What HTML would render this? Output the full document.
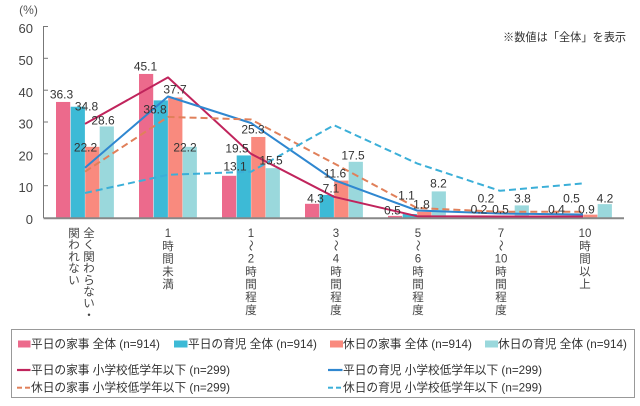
<!DOCTYPE html>
<html><head><meta charset="utf-8"><style>
html,body{margin:0;padding:0;background:#fff;}
svg{display:block;}
text{font-family:"Liberation Sans","Noto Sans CJK JP",sans-serif;}
</style></head><body>
<svg width="640" height="406" viewBox="0 0 640 406" xmlns="http://www.w3.org/2000/svg">
<rect x="0" y="0" width="640" height="406" fill="#fff"/>
<!-- header texts -->
<text x="28.5" y="14" font-size="12" fill="#555" text-anchor="middle">(%)</text>
<text x="503" y="41" font-size="11.2" fill="#333">※数値は「全体」を表示</text>
<!-- y axis labels -->
<g font-size="13" fill="#444" text-anchor="end">
<text x="33" y="33">60</text>
<text x="33" y="65">50</text>
<text x="33" y="97">40</text>
<text x="33" y="128.5">30</text>
<text x="33" y="160.5">20</text>
<text x="33" y="192">10</text>
<text x="33" y="224">0</text>
</g>
<!-- y axis -->
<line x1="43.5" y1="26" x2="43.5" y2="218" stroke="#777" stroke-width="1"/>
<g stroke="#777" stroke-width="1">
<line x1="43.5" y1="26.5" x2="48" y2="26.5"/>
<line x1="43.5" y1="58.3" x2="48" y2="58.3"/>
<line x1="43.5" y1="90.2" x2="48" y2="90.2"/>
<line x1="43.5" y1="122" x2="48" y2="122"/>
<line x1="43.5" y1="153.8" x2="48" y2="153.8"/>
<line x1="43.5" y1="185.7" x2="48" y2="185.7"/>
</g>
<!-- bars -->
<g id="bars"></g>
<!-- bars drawn explicitly -->
<g>
<!-- group centers: 85,168,251,334,417,500,583 ; y(v)=217.5-3.183v -->
<!-- group 1 -->
<rect x="56" y="101.95" width="14.2" height="115.55" fill="#EC6A8C"/>
<rect x="70.7" y="106.73" width="14.2" height="110.77" fill="#3DBAD6"/>
<rect x="85.2" y="146.84" width="14.2" height="70.66" fill="#F98A7E"/>
<rect x="99.7" y="126.47" width="14.2" height="91.03" fill="#9AD8DC"/>
<!-- group 2 -->
<rect x="139" y="73.95" width="14.2" height="143.55" fill="#EC6A8C"/>
<rect x="153.7" y="100.37" width="14.2" height="117.13" fill="#3DBAD6"/>
<rect x="168.2" y="97.5" width="14.2" height="120" fill="#F98A7E"/>
<rect x="182.7" y="146.84" width="14.2" height="70.66" fill="#9AD8DC"/>
<!-- group 3 -->
<rect x="222" y="175.8" width="14.2" height="41.7" fill="#EC6A8C"/>
<rect x="236.7" y="155.43" width="14.2" height="62.07" fill="#3DBAD6"/>
<rect x="251.2" y="136.97" width="14.2" height="80.53" fill="#F98A7E"/>
<rect x="265.7" y="168.16" width="14.2" height="49.34" fill="#9AD8DC"/>
<!-- group 4 -->
<rect x="305" y="203.81" width="14.2" height="13.69" fill="#EC6A8C"/>
<rect x="319.7" y="194.9" width="14.2" height="22.6" fill="#3DBAD6"/>
<rect x="334.2" y="180.58" width="14.2" height="36.92" fill="#F98A7E"/>
<rect x="348.7" y="161.8" width="14.2" height="55.7" fill="#9AD8DC"/>
<!-- group 5 -->
<rect x="388" y="215.9" width="14.2" height="1.6" fill="#EC6A8C"/>
<rect x="402.7" y="214" width="14.2" height="3.5" fill="#3DBAD6"/>
<rect x="417.2" y="211.77" width="14.2" height="5.73" fill="#F98A7E"/>
<rect x="431.7" y="191.4" width="14.2" height="26.1" fill="#9AD8DC"/>
<!-- group 6 -->
<rect x="471" y="216.86" width="14.2" height="0.64" fill="#EC6A8C"/>
<rect x="485.7" y="216.86" width="14.2" height="0.64" fill="#3DBAD6"/>
<rect x="500.2" y="215.9" width="14.2" height="1.6" fill="#F98A7E"/>
<rect x="514.7" y="205.4" width="14.2" height="12.1" fill="#9AD8DC"/>
<!-- group 7 -->
<rect x="554" y="216.23" width="14.2" height="1.27" fill="#EC6A8C"/>
<rect x="568.7" y="215.9" width="14.2" height="1.6" fill="#3DBAD6"/>
<rect x="583.2" y="214.64" width="14.2" height="2.86" fill="#F98A7E"/>
<rect x="597.7" y="204.13" width="14.2" height="13.37" fill="#9AD8DC"/>
</g>
<!-- x axis -->
<line x1="43.5" y1="218.2" x2="624" y2="218.2" stroke="#888" stroke-width="2"/>
<!-- lines -->
<g fill="none" stroke-width="2" stroke-linejoin="round">
<polyline points="85,123.9 168,77.4 251,153.8 334,196.8 417,216.2 500,216.5 583,216.5" stroke="#C0245C"/>
<polyline points="85,167.8 168,96.5 251,123 334,180 417,210.5 500,213.5 583,214.5" stroke="#2F87D0"/>
<polyline points="85,171.7 168,116.9 251,119.5 334,163.4 417,208 500,211.8 583,211.8" stroke="#E0805A" stroke-dasharray="7,4"/>
<polyline points="85,193 168,174.8 251,171.7 334,125.2 417,163.4 500,190.8 583,183.4" stroke="#3BAFD8" stroke-dasharray="7,4"/>
</g>
<!-- data labels -->
<g font-size="12" fill="#333" text-anchor="middle">
<text x="61.5" y="98.5">36.3</text>
<text x="86.5" y="110.5">34.8</text>
<text x="85.5" y="151.5">22.2</text>
<text x="103" y="124.5">28.6</text>
<text x="145.5" y="70.5">45.1</text>
<text x="155" y="113.5">36.8</text>
<text x="175" y="93.5">37.7</text>
<text x="185" y="151.5">22.2</text>
<text x="235" y="170.5">13.1</text>
<text x="237" y="152.5">19.5</text>
<text x="253" y="133.5">25.3</text>
<text x="271" y="164.5">15.5</text>
<text x="315.5" y="202.5">4.3</text>
<text x="331" y="192.5">7.1</text>
<text x="335" y="177.5">11.6</text>
<text x="353" y="159.5">17.5</text>
<text x="392.5" y="214.5">0.5</text>
<text x="406.5" y="199.5">1.1</text>
<text x="421.5" y="208.5">1.8</text>
<text x="438.5" y="187.5">8.2</text>
<text x="486" y="202.5">0.2</text>
<text x="479" y="213.5">0.2</text>
<text x="500.5" y="213.5">0.5</text>
<text x="522.5" y="202.5">3.8</text>
<text x="571.5" y="202.5">0.5</text>
<text x="556.5" y="213.5">0.4</text>
<text x="586.5" y="213.5">0.9</text>
<text x="605" y="202.5">4.2</text>
</g>
<!-- x category labels (vertical) -->
<g font-size="11.5" fill="#444" text-anchor="middle">
<!-- group 1 right column -->
<text x="89" y="237">全</text>
<text x="89" y="248.7">く</text>
<text x="89" y="260.4">関</text>
<text x="89" y="272.1">わ</text>
<text x="89" y="283.8">ら</text>
<text x="89" y="295.5">な</text>
<text x="89" y="307.2">い</text>
<text x="89" y="318.9">・</text>
<!-- group 1 left column -->
<text x="74" y="237">関</text>
<text x="74" y="248.7">わ</text>
<text x="74" y="260.4">れ</text>
<text x="74" y="272.1">な</text>
<text x="74" y="283.8">い</text>
<!-- group 2 -->
<text x="168" y="237">1</text>
<text x="168" y="249.8">時</text>
<text x="168" y="262.6">間</text>
<text x="168" y="275.4">未</text>
<text x="168" y="288.2">満</text>
<!-- group 3 -->
<text x="251" y="237">1</text>
<text transform="translate(251,245.5) rotate(90)" y="4" x="0">〜</text>
<text x="251" y="262.6">2</text>
<text x="251" y="275.4">時</text>
<text x="251" y="288.2">間</text>
<text x="251" y="301">程</text>
<text x="251" y="313.8">度</text>
<!-- group 4 -->
<text x="336" y="237">3</text>
<text transform="translate(336,245.5) rotate(90)" y="4" x="0">〜</text>
<text x="336" y="262.6">4</text>
<text x="336" y="275.4">時</text>
<text x="336" y="288.2">間</text>
<text x="336" y="301">程</text>
<text x="336" y="313.8">度</text>
<!-- group 5 -->
<text x="418" y="237">5</text>
<text transform="translate(418,245.5) rotate(90)" y="4" x="0">〜</text>
<text x="418" y="262.6">6</text>
<text x="418" y="275.4">時</text>
<text x="418" y="288.2">間</text>
<text x="418" y="301">程</text>
<text x="418" y="313.8">度</text>
<!-- group 6 -->
<text x="501" y="237">7</text>
<text transform="translate(501,245.5) rotate(90)" y="4" x="0">〜</text>
<text x="501" y="262.6">10</text>
<text x="501" y="275.4">時</text>
<text x="501" y="288.2">間</text>
<text x="501" y="301">程</text>
<text x="501" y="313.8">度</text>
<!-- group 7 -->
<text x="585" y="237">10</text>
<text x="585" y="249.8">時</text>
<text x="585" y="262.6">間</text>
<text x="585" y="275.4">以</text>
<text x="585" y="288.2">上</text>
</g>
<!-- legend -->
<rect x="11.5" y="329.5" width="623" height="68" fill="#fff" stroke="#999" stroke-width="1"/>
<rect x="18" y="340.5" width="12.5" height="7" fill="#EC6A8C"/>
<rect x="174" y="340.5" width="13.5" height="7" fill="#3DBAD6"/>
<rect x="330" y="340.5" width="13" height="7" fill="#F98A7E"/>
<rect x="485" y="340.5" width="13" height="7" fill="#9AD8DC"/>
<line x1="17" y1="370" x2="30.5" y2="370" stroke="#C0245C" stroke-width="2.2"/>
<line x1="328" y1="370" x2="342.5" y2="370" stroke="#2F87D0" stroke-width="2.2"/>
<line x1="17" y1="387.7" x2="22" y2="387.7" stroke="#E0805A" stroke-width="2"/>
<line x1="25" y1="387.7" x2="30" y2="387.7" stroke="#E0805A" stroke-width="2"/>
<line x1="328" y1="387.7" x2="333" y2="387.7" stroke="#3BAFD8" stroke-width="2"/>
<line x1="336" y1="387.7" x2="341" y2="387.7" stroke="#3BAFD8" stroke-width="2"/>
<g font-size="11.7" fill="#333">
<text x="31" y="348">平日の家事 全体 (n=914)</text>
<text x="188" y="348">平日の育児 全体 (n=914)</text>
<text x="343" y="348">休日の家事 全体 (n=914)</text>
<text x="498" y="348">休日の育児 全体 (n=914)</text>
<text x="31" y="374">平日の家事 小学校低学年以下 (n=299)</text>
<text x="343" y="374">平日の育児 小学校低学年以下 (n=299)</text>
<text x="31" y="391.7">休日の家事 小学校低学年以下 (n=299)</text>
<text x="343" y="391.7">休日の育児 小学校低学年以下 (n=299)</text>
</g>
</svg>
</body></html>
